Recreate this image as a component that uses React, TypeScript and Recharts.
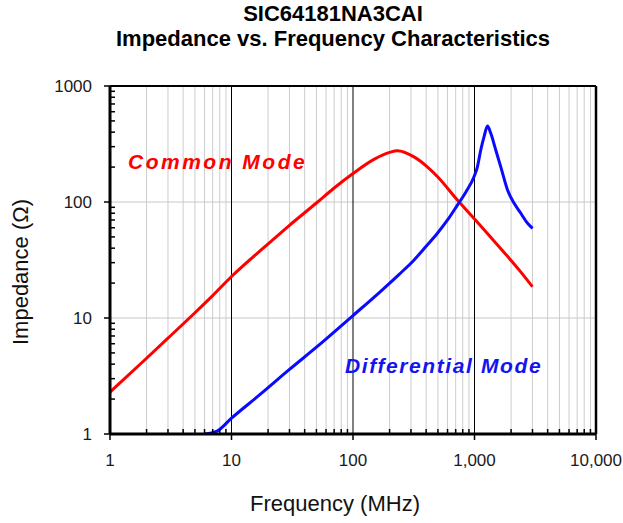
import { ComposedChart, Line, XAxis, YAxis, ReferenceLine } from 'recharts'

const FONT = "'Liberation Sans', Arial, sans-serif"

// common mode curve (MHz, ohm)
const cmFreq = [1, 2, 3, 5, 7, 10, 20, 30, 50, 70, 100, 150, 200, 233, 315, 400, 497, 723, 1018, 1400, 1870, 2400, 3000]
const cmZ = [2.3, 4.5, 6.7, 11.1, 15.6, 22.8, 43.5, 63, 98, 132, 176, 234, 268, 277, 246, 205, 165, 104, 70, 48, 34, 25, 18.6]

// differential mode curve
const dmFreq = [6, 7.6, 10, 17, 30, 50, 100, 169, 240, 317, 400, 497, 600, 723, 850, 991, 1057, 1126, 1199, 1279, 1361, 1496, 1645, 1870, 2120, 2405, 2733, 3006]
const dmZ = [1, 1.06, 1.37, 2.17, 3.6, 5.6, 10.5, 17, 23.8, 31.5, 41.5, 54, 70, 94, 122, 165, 201, 281, 366, 452, 391, 281, 201, 127, 97.5, 80, 65.5, 59.3]

const xMajor = [1, 10, 100, 1000, 10000]
const yMajor = [1, 10, 100, 1000]
const minorSteps = [2, 3, 4, 5, 6, 7, 8, 9]

const xMinor = xMajor.slice(0, -1).flatMap(d => minorSteps.map(m => m * d))
const yMinor = yMajor.slice(0, -1).flatMap(d => minorSteps.map(m => m * d))

const cmData = cmFreq.map((f, i) => ({ f, z: cmZ[i] }))
const dmData = dmFreq.map((f, i) => ({ f, z: dmZ[i] }))

const XTick = ({ x, y, payload }: any) => {
    const v = payload.value
    const major = xMajor.includes(v)
    return <g>
        <line x1={x} x2={x} y1={y} y2={major ? y + 6 : y - 5} stroke="#000" strokeWidth={1.5} />
        {major && <text x={x} y={y + 32} textAnchor="middle" fontSize={17} fontFamily={FONT} fill="#1a1a1a">
            {v.toLocaleString('en-US')}
        </text>}
    </g>
}

const YTick = ({ x, y, payload }: any) => {
    const v = payload.value
    const major = yMajor.includes(v)
    return <g>
        <line x1={x} x2={major ? x - 6 : x + 5} y1={y} y2={y} stroke="#000" strokeWidth={1.5} />
        {major && <text x={x - 18} y={y + 6} textAnchor="end" fontSize={17} fontFamily={FONT} fill="#1a1a1a">
            {v}
        </text>}
    </g>
}

export default function App() {
    return <div style={{ position: 'absolute', left: 0, top: 0, width: 623, height: 523, background: '#fff', fontFamily: FONT }}>
        <div style={{ position: 'absolute', left: 83, top: 2, width: 500, textAlign: 'center', fontWeight: 'bold', fontSize: 22, lineHeight: '24.5px', color: '#000' }}>
            SIC64181NA3CAI<br />Impedance vs. Frequency Characteristics
        </div>
        <ComposedChart width={623} height={523} margin={{ top: 86, right: 27, bottom: 29, left: 0 }}>
            <XAxis dataKey="f" type="number" scale="log" domain={[1, 10000]} allowDataOverflow
                ticks={[...xMajor, ...xMinor]} interval={0} tickSize={0} tickMargin={0} tickLine={false}
                tick={<XTick />} height={60}
                axisLine={{ stroke: '#000', strokeWidth: 3 }} />
            <YAxis type="number" scale="log" domain={[1, 1000]} allowDataOverflow
                ticks={[...yMajor, ...yMinor]} interval={0} tickSize={0} tickMargin={0} tickLine={false}
                tick={<YTick />} width={110}
                axisLine={{ stroke: '#000', strokeWidth: 3 }} />
            {xMinor.map(v => <ReferenceLine key={'xm' + v} x={v} stroke="#cdcdcd" strokeWidth={1} />)}
            {[10, 100].map(v => <ReferenceLine key={'yg' + v} y={v} stroke="#c8c8c8" strokeWidth={1} />)}
            {[10, 100, 1000].map(v => <ReferenceLine key={'xg' + v} x={v} stroke="#000" strokeWidth={1} />)}
            <ReferenceLine y={1000} stroke="#000" strokeWidth={2} />
            <ReferenceLine x={10000} stroke="#000" strokeWidth={2.5} />
            <Line data={cmData} dataKey="z" type="monotone" stroke="#ff0000" strokeWidth={3} dot={false} isAnimationActive={false} />
            <Line data={dmData} dataKey="z" type="monotone" stroke="#0a0aff" strokeWidth={3} dot={false} isAnimationActive={false} />
        </ComposedChart>
        <div style={{ position: 'absolute', left: 135, top: 493, width: 400, textAlign: 'center', fontSize: 22, lineHeight: '22px', color: '#111' }}>
            Frequency (MHz)
        </div>
        <div style={{ position: 'absolute', left: 21, top: 272, transform: 'translate(-50%, -50%) rotate(-90deg)', whiteSpace: 'nowrap', fontSize: 22, color: '#111' }}>
            Impedance (Ω)
        </div>
        <div style={{ position: 'absolute', left: 128, top: 150, fontSize: 21, fontWeight: 'bold', fontStyle: 'italic', letterSpacing: 2.5, color: '#ff0000', whiteSpace: 'nowrap' }}>
            Common Mode
        </div>
        <div style={{ position: 'absolute', left: 345, top: 354, fontSize: 21, fontWeight: 'bold', fontStyle: 'italic', letterSpacing: 1.6, color: '#1414f0', whiteSpace: 'nowrap' }}>
            Differential Mode
        </div>
    </div>
}
